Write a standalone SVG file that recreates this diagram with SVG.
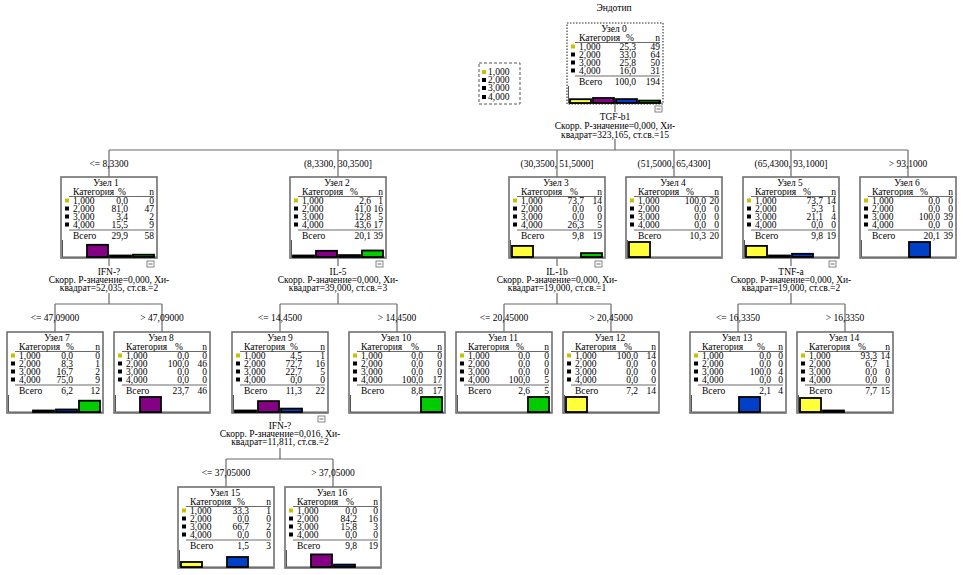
<svg xmlns="http://www.w3.org/2000/svg" width="963" height="575" viewBox="0 0 963 575">
<style>
.t{font-family:"Liberation Serif","Times New Roman",serif;font-size:9.5px;fill:#000}
.m{text-anchor:middle}.e{text-anchor:end}
.box{fill:#fff;stroke:#707070;stroke-width:1.6}
.box0{fill:#fff;stroke:#707070;stroke-width:1.6;stroke-dasharray:1.5,1.5}
.rule{stroke:#444;stroke-width:0.8}
.ax{fill:none;stroke:#555;stroke-width:1}
.sqY{fill:#c8c000}.sqK{fill:#000}
.bar{stroke:#000;stroke-width:1.8}
.b1{fill:#ffff3a}.b2{fill:#840084}.b3{fill:#0040c8}.b4{fill:#00cc00}
.cn{stroke:#6a6a6a;stroke-width:1.2;fill:none}
.mb{fill:#fff;stroke:#666;stroke-width:0.8}
.leg{fill:#fff;stroke:#555;stroke-width:1;stroke-dasharray:3,2}
</style>
<text class="t m" x="614" y="11">Эндотип</text>
<g id="legend">
<rect class="leg" x="479" y="63" width="41" height="41"/>
<rect class="sqY" x="482" y="70" width="4" height="4"/><text class="t" x="488" y="75">1,000</text>
<rect class="sqK" x="482" y="78" width="4" height="4"/><text class="t" x="488" y="83">2,000</text>
<rect class="sqK" x="482" y="86" width="4" height="4"/><text class="t" x="488" y="91">3,000</text>
<rect class="sqK" x="482" y="95" width="4" height="4"/><text class="t" x="488" y="100">4,000</text>
</g>
<g id="connectors">
<path class="cn" d="M615,104V112M615,139V150M109,150H908M109,150V177M338,150V177M557,150V177M674,150V177M791,150V177M908,150V177"/>
<path class="cn" d="M109,258V266M109,293V304M55,304H162M55,304V332M162,304V332"/>
<path class="cn" d="M338,258V266M338,293V304M280,304H397M280,304V332M397,304V332"/>
<path class="cn" d="M557,258V266M557,293V304M504,304H611M504,304V332M611,304V332"/>
<path class="cn" d="M791,258V266M791,293V304M738,304H845M738,304V332M845,304V332"/>
<path class="cn" d="M280,413V421M280,448V459M226,459H333M226,459V487M333,459V487"/>
</g>
<g id="labels">
<text class="t m" x="615" y="120">TGF-b1</text>
<text class="t m" x="615" y="129">Скорр. Р-значение=0,000, Хи-</text>
<text class="t m" x="615" y="138">квадрат=323,165, ст.св.=15</text>
<text class="t m" x="109" y="167">&lt;= 8,3300</text>
<text class="t m" x="338" y="167">(8,3300, 30,3500]</text>
<text class="t m" x="557" y="167">(30,3500, 51,5000]</text>
<text class="t m" x="674" y="167">(51,5000, 65,4300]</text>
<text class="t m" x="791" y="167">(65,4300, 93,1000]</text>
<text class="t m" x="908" y="167">&gt; 93,1000</text>
<text class="t m" x="109" y="275">IFN-?</text>
<text class="t m" x="109" y="283">Скорр. Р-значение=0,000, Хи-</text>
<text class="t m" x="109" y="291">квадрат=52,035, ст.св.=2</text>
<text class="t m" x="338" y="275">IL-5</text>
<text class="t m" x="338" y="283">Скорр. Р-значение=0,000, Хи-</text>
<text class="t m" x="338" y="291">квадрат=39,000, ст.св.=3</text>
<text class="t m" x="557" y="275">IL-1b</text>
<text class="t m" x="557" y="283">Скорр. Р-значение=0,000, Хи-</text>
<text class="t m" x="557" y="291">квадрат=19,000, ст.св.=1</text>
<text class="t m" x="791" y="275">TNF-a</text>
<text class="t m" x="791" y="283">Скорр. Р-значение=0,000, Хи-</text>
<text class="t m" x="791" y="291">квадрат=19,000, ст.св.=2</text>
<text class="t m" x="55" y="321">&lt;= 47,09000</text>
<text class="t m" x="162" y="321">&gt; 47,09000</text>
<text class="t m" x="280" y="321">&lt;= 14,4500</text>
<text class="t m" x="397" y="321">&gt; 14,4500</text>
<text class="t m" x="504" y="321">&lt;= 20,45000</text>
<text class="t m" x="611" y="321">&gt; 20,45000</text>
<text class="t m" x="738" y="321">&lt;= 16,3350</text>
<text class="t m" x="845" y="321">&gt; 16,3350</text>
<text class="t m" x="280" y="429">IFN-?</text>
<text class="t m" x="280" y="437">Скорр. Р-значение=0,016, Хи-</text>
<text class="t m" x="280" y="445">квадрат=11,811, ст.св.=2</text>
<text class="t m" x="226" y="476">&lt;= 37,05000</text>
<text class="t m" x="333" y="476">&gt; 37,05000</text>
</g>

<g id="node0" transform="translate(567,23)">
<rect class="box0" width="96" height="81"/>
<text class="t m" x="47" y="9">Узел 0</text>
<text class="t" x="12" y="17.5">Категория</text><text class="t m" x="63" y="17.5">%</text><text class="t e" x="93" y="17.5">n</text>
<line class="rule" x1="8" y1="19.5" x2="93" y2="19.5"/>
<rect class="sqY" x="4" y="21.5" width="4" height="4"/><rect class="sqK" x="4" y="29.5" width="4" height="4"/><rect class="sqK" x="4" y="37.5" width="4" height="4"/><rect class="sqK" x="4" y="45.5" width="4" height="4"/>
<text class="t" x="12" y="27">1,000</text><text class="t e" x="69" y="27">25,3</text><text class="t e" x="93" y="27">49</text>
<text class="t" x="12" y="35">2,000</text><text class="t e" x="69" y="35">33,0</text><text class="t e" x="93" y="35">64</text>
<text class="t" x="12" y="43">3,000</text><text class="t e" x="69" y="43">25,8</text><text class="t e" x="93" y="43">50</text>
<text class="t" x="12" y="51">4,000</text><text class="t e" x="69" y="51">16,0</text><text class="t e" x="93" y="51">31</text>
<line class="rule" x1="8" y1="53" x2="93" y2="53"/>
<text class="t" x="12" y="62">Всего</text><text class="t e" x="69" y="62">100,0</text><text class="t e" x="93" y="62">194</text>
<path class="ax" d="M1.5,63V80H95"/>
<rect class="bar b1" x="3" y="76.2" width="21" height="3.8"/><rect class="bar b2" x="26" y="75" width="21" height="5"/><rect class="bar b3" x="49" y="76.1" width="21" height="3.9"/><rect class="bar b4" x="72" y="77.6" width="21" height="2.4"/>
<rect class="mb" x="88" y="83" width="7" height="6"/><line class="rule" x1="89.5" y1="86" x2="93.5" y2="86"/>
</g>

<g id="node1" transform="translate(61,177)">
<rect class="box" width="96" height="81"/>
<text class="t m" x="45" y="9">Узел 1</text>
<text class="t" x="12" y="17.5">Категория</text><text class="t m" x="61" y="17.5">%</text><text class="t e" x="93" y="17.5">n</text>
<line class="rule" x1="8" y1="19.5" x2="93" y2="19.5"/>
<rect class="sqY" x="4" y="21.5" width="4" height="4"/><rect class="sqK" x="4" y="29.5" width="4" height="4"/><rect class="sqK" x="4" y="37.5" width="4" height="4"/><rect class="sqK" x="4" y="45.5" width="4" height="4"/>
<text class="t" x="12" y="27">1,000</text><text class="t e" x="67" y="27">0,0</text><text class="t e" x="93" y="27">0</text>
<text class="t" x="12" y="35">2,000</text><text class="t e" x="67" y="35">81,0</text><text class="t e" x="93" y="35">47</text>
<text class="t" x="12" y="43">3,000</text><text class="t e" x="67" y="43">3,4</text><text class="t e" x="93" y="43">2</text>
<text class="t" x="12" y="51">4,000</text><text class="t e" x="67" y="51">15,5</text><text class="t e" x="93" y="51">9</text>
<line class="rule" x1="8" y1="53" x2="93" y2="53"/>
<text class="t" x="12" y="62">Всего</text><text class="t e" x="67" y="62">29,9</text><text class="t e" x="93" y="62">58</text>
<path class="ax" d="M1.5,63V80H95"/>
<rect class="bar b2" x="26" y="67.8" width="21" height="12.2"/><rect class="bar b3" x="49" y="78.5" width="21" height="1.5"/><rect class="bar b4" x="72" y="77.7" width="21" height="2.3"/>
<rect class="mb" x="86" y="84" width="7" height="6"/><line class="rule" x1="87.5" y1="87" x2="91.5" y2="87"/>
</g>

<g id="node2" transform="translate(290,177)">
<rect class="box" width="96" height="81"/>
<text class="t m" x="47" y="9">Узел 2</text>
<text class="t" x="12" y="17.5">Категория</text><text class="t m" x="64" y="17.5">%</text><text class="t e" x="93" y="17.5">n</text>
<line class="rule" x1="8" y1="19.5" x2="93" y2="19.5"/>
<rect class="sqY" x="4" y="21.5" width="4" height="4"/><rect class="sqK" x="4" y="29.5" width="4" height="4"/><rect class="sqK" x="4" y="37.5" width="4" height="4"/><rect class="sqK" x="4" y="45.5" width="4" height="4"/>
<text class="t" x="12" y="27">1,000</text><text class="t e" x="81" y="27">2,6</text><text class="t e" x="93" y="27">1</text>
<text class="t" x="12" y="35">2,000</text><text class="t e" x="81" y="35">41,0</text><text class="t e" x="93" y="35">16</text>
<text class="t" x="12" y="43">3,000</text><text class="t e" x="81" y="43">12,8</text><text class="t e" x="93" y="43">5</text>
<text class="t" x="12" y="51">4,000</text><text class="t e" x="81" y="51">43,6</text><text class="t e" x="93" y="51">17</text>
<line class="rule" x1="8" y1="53" x2="93" y2="53"/>
<text class="t" x="12" y="62">Всего</text><text class="t e" x="81" y="62">20,1</text><text class="t e" x="93" y="62">39</text>
<path class="ax" d="M1.5,63V80H95"/>
<rect class="bar b1" x="3" y="78.5" width="21" height="1.5"/><rect class="bar b2" x="26" y="73.8" width="21" height="6.2"/><rect class="bar b3" x="49" y="78.1" width="21" height="1.9"/><rect class="bar b4" x="72" y="73.5" width="21" height="6.5"/>
<rect class="mb" x="86" y="84" width="7" height="6"/><line class="rule" x1="87.5" y1="87" x2="91.5" y2="87"/>
</g>

<g id="node3" transform="translate(509,177)">
<rect class="box" width="96" height="81"/>
<text class="t m" x="47" y="9">Узел 3</text>
<text class="t" x="12" y="17.5">Категория</text><text class="t m" x="65" y="17.5">%</text><text class="t e" x="93" y="17.5">n</text>
<line class="rule" x1="8" y1="19.5" x2="93" y2="19.5"/>
<rect class="sqY" x="4" y="21.5" width="4" height="4"/><rect class="sqK" x="4" y="29.5" width="4" height="4"/><rect class="sqK" x="4" y="37.5" width="4" height="4"/><rect class="sqK" x="4" y="45.5" width="4" height="4"/>
<text class="t" x="12" y="27">1,000</text><text class="t e" x="75" y="27">73,7</text><text class="t e" x="93" y="27">14</text>
<text class="t" x="12" y="35">2,000</text><text class="t e" x="75" y="35">0,0</text><text class="t e" x="93" y="35">0</text>
<text class="t" x="12" y="43">3,000</text><text class="t e" x="75" y="43">0,0</text><text class="t e" x="93" y="43">0</text>
<text class="t" x="12" y="51">4,000</text><text class="t e" x="75" y="51">26,3</text><text class="t e" x="93" y="51">5</text>
<line class="rule" x1="8" y1="53" x2="93" y2="53"/>
<text class="t" x="12" y="62">Всего</text><text class="t e" x="75" y="62">9,8</text><text class="t e" x="93" y="62">19</text>
<path class="ax" d="M1.5,63V80H95"/>
<rect class="bar b1" x="3" y="68.9" width="21" height="11.1"/><rect class="bar b4" x="72" y="76.1" width="21" height="3.9"/>
<rect class="mb" x="86" y="84" width="7" height="6"/><line class="rule" x1="87.5" y1="87" x2="91.5" y2="87"/>
</g>

<g id="node4" transform="translate(626,177)">
<rect class="box" width="96" height="81"/>
<text class="t m" x="47" y="9">Узел 4</text>
<text class="t" x="12" y="17.5">Категория</text><text class="t m" x="64" y="17.5">%</text><text class="t e" x="93" y="17.5">n</text>
<line class="rule" x1="8" y1="19.5" x2="93" y2="19.5"/>
<rect class="sqY" x="4" y="21.5" width="4" height="4"/><rect class="sqK" x="4" y="29.5" width="4" height="4"/><rect class="sqK" x="4" y="37.5" width="4" height="4"/><rect class="sqK" x="4" y="45.5" width="4" height="4"/>
<text class="t" x="12" y="27">1,000</text><text class="t e" x="80" y="27">100,0</text><text class="t e" x="93" y="27">20</text>
<text class="t" x="12" y="35">2,000</text><text class="t e" x="80" y="35">0,0</text><text class="t e" x="93" y="35">0</text>
<text class="t" x="12" y="43">3,000</text><text class="t e" x="80" y="43">0,0</text><text class="t e" x="93" y="43">0</text>
<text class="t" x="12" y="51">4,000</text><text class="t e" x="80" y="51">0,0</text><text class="t e" x="93" y="51">0</text>
<line class="rule" x1="8" y1="53" x2="93" y2="53"/>
<text class="t" x="12" y="62">Всего</text><text class="t e" x="80" y="62">10,3</text><text class="t e" x="93" y="62">20</text>
<path class="ax" d="M1.5,63V80H95"/>
<rect class="bar b1" x="3" y="65" width="21" height="15"/>
</g>

<g id="node5" transform="translate(743,177)">
<rect class="box" width="96" height="81"/>
<text class="t m" x="47" y="9">Узел 5</text>
<text class="t" x="12" y="17.5">Категория</text><text class="t m" x="64" y="17.5">%</text><text class="t e" x="93" y="17.5">n</text>
<line class="rule" x1="8" y1="19.5" x2="93" y2="19.5"/>
<rect class="sqY" x="4" y="21.5" width="4" height="4"/><rect class="sqK" x="4" y="29.5" width="4" height="4"/><rect class="sqK" x="4" y="37.5" width="4" height="4"/><rect class="sqK" x="4" y="45.5" width="4" height="4"/>
<text class="t" x="12" y="27">1,000</text><text class="t e" x="80" y="27">73,7</text><text class="t e" x="93" y="27">14</text>
<text class="t" x="12" y="35">2,000</text><text class="t e" x="80" y="35">5,3</text><text class="t e" x="93" y="35">1</text>
<text class="t" x="12" y="43">3,000</text><text class="t e" x="80" y="43">21,1</text><text class="t e" x="93" y="43">4</text>
<text class="t" x="12" y="51">4,000</text><text class="t e" x="80" y="51">0,0</text><text class="t e" x="93" y="51">0</text>
<line class="rule" x1="8" y1="53" x2="93" y2="53"/>
<text class="t" x="12" y="62">Всего</text><text class="t e" x="80" y="62">9,8</text><text class="t e" x="93" y="62">19</text>
<path class="ax" d="M1.5,63V80H95"/>
<rect class="bar b1" x="3" y="68.9" width="21" height="11.1"/><rect class="bar b2" x="26" y="78.5" width="21" height="1.5"/><rect class="bar b3" x="49" y="76.8" width="21" height="3.2"/>
<rect class="mb" x="86" y="84" width="7" height="6"/><line class="rule" x1="87.5" y1="87" x2="91.5" y2="87"/>
</g>

<g id="node6" transform="translate(860,177)">
<rect class="box" width="96" height="81"/>
<text class="t m" x="47" y="9">Узел 6</text>
<text class="t" x="12" y="17.5">Категория</text><text class="t m" x="64" y="17.5">%</text><text class="t e" x="93" y="17.5">n</text>
<line class="rule" x1="8" y1="19.5" x2="93" y2="19.5"/>
<rect class="sqY" x="4" y="21.5" width="4" height="4"/><rect class="sqK" x="4" y="29.5" width="4" height="4"/><rect class="sqK" x="4" y="37.5" width="4" height="4"/><rect class="sqK" x="4" y="45.5" width="4" height="4"/>
<text class="t" x="12" y="27">1,000</text><text class="t e" x="80" y="27">0,0</text><text class="t e" x="93" y="27">0</text>
<text class="t" x="12" y="35">2,000</text><text class="t e" x="80" y="35">0,0</text><text class="t e" x="93" y="35">0</text>
<text class="t" x="12" y="43">3,000</text><text class="t e" x="80" y="43">100,0</text><text class="t e" x="93" y="43">39</text>
<text class="t" x="12" y="51">4,000</text><text class="t e" x="80" y="51">0,0</text><text class="t e" x="93" y="51">0</text>
<line class="rule" x1="8" y1="53" x2="93" y2="53"/>
<text class="t" x="12" y="62">Всего</text><text class="t e" x="80" y="62">20,1</text><text class="t e" x="93" y="62">39</text>
<path class="ax" d="M1.5,63V80H95"/>
<rect class="bar b3" x="49" y="65" width="21" height="15"/>
</g>

<g id="node7" transform="translate(7,332)">
<rect class="box" width="96" height="81"/>
<text class="t m" x="50" y="9">Узел 7</text>
<text class="t" x="12" y="17.5">Категория</text><text class="t m" x="63" y="17.5">%</text><text class="t e" x="93" y="17.5">n</text>
<line class="rule" x1="8" y1="19.5" x2="93" y2="19.5"/>
<rect class="sqY" x="4" y="21.5" width="4" height="4"/><rect class="sqK" x="4" y="29.5" width="4" height="4"/><rect class="sqK" x="4" y="37.5" width="4" height="4"/><rect class="sqK" x="4" y="45.5" width="4" height="4"/>
<text class="t" x="12" y="27">1,000</text><text class="t e" x="66" y="27">0,0</text><text class="t e" x="93" y="27">0</text>
<text class="t" x="12" y="35">2,000</text><text class="t e" x="66" y="35">8,3</text><text class="t e" x="93" y="35">1</text>
<text class="t" x="12" y="43">3,000</text><text class="t e" x="66" y="43">16,7</text><text class="t e" x="93" y="43">2</text>
<text class="t" x="12" y="51">4,000</text><text class="t e" x="66" y="51">75,0</text><text class="t e" x="93" y="51">9</text>
<line class="rule" x1="8" y1="53" x2="93" y2="53"/>
<text class="t" x="12" y="62">Всего</text><text class="t e" x="66" y="62">6,2</text><text class="t e" x="93" y="62">12</text>
<path class="ax" d="M1.5,63V80H95"/>
<rect class="bar b2" x="26" y="78.5" width="21" height="1.5"/><rect class="bar b3" x="49" y="77.5" width="21" height="2.5"/><rect class="bar b4" x="72" y="68.7" width="21" height="11.3"/>
</g>

<g id="node8" transform="translate(114,332)">
<rect class="box" width="96" height="81"/>
<text class="t m" x="47" y="9">Узел 8</text>
<text class="t" x="12" y="17.5">Категория</text><text class="t m" x="65" y="17.5">%</text><text class="t e" x="93" y="17.5">n</text>
<line class="rule" x1="8" y1="19.5" x2="93" y2="19.5"/>
<rect class="sqY" x="4" y="21.5" width="4" height="4"/><rect class="sqK" x="4" y="29.5" width="4" height="4"/><rect class="sqK" x="4" y="37.5" width="4" height="4"/><rect class="sqK" x="4" y="45.5" width="4" height="4"/>
<text class="t" x="12" y="27">1,000</text><text class="t e" x="75" y="27">0,0</text><text class="t e" x="93" y="27">0</text>
<text class="t" x="12" y="35">2,000</text><text class="t e" x="75" y="35">100,0</text><text class="t e" x="93" y="35">46</text>
<text class="t" x="12" y="43">3,000</text><text class="t e" x="75" y="43">0,0</text><text class="t e" x="93" y="43">0</text>
<text class="t" x="12" y="51">4,000</text><text class="t e" x="75" y="51">0,0</text><text class="t e" x="93" y="51">0</text>
<line class="rule" x1="8" y1="53" x2="93" y2="53"/>
<text class="t" x="12" y="62">Всего</text><text class="t e" x="75" y="62">23,7</text><text class="t e" x="93" y="62">46</text>
<path class="ax" d="M1.5,63V80H95"/>
<rect class="bar b2" x="26" y="65" width="21" height="15"/>
</g>

<g id="node9" transform="translate(232,332)">
<rect class="box" width="96" height="81"/>
<text class="t m" x="48" y="9">Узел 9</text>
<text class="t" x="12" y="17.5">Категория</text><text class="t m" x="62" y="17.5">%</text><text class="t e" x="93" y="17.5">n</text>
<line class="rule" x1="8" y1="19.5" x2="93" y2="19.5"/>
<rect class="sqY" x="4" y="21.5" width="4" height="4"/><rect class="sqK" x="4" y="29.5" width="4" height="4"/><rect class="sqK" x="4" y="37.5" width="4" height="4"/><rect class="sqK" x="4" y="45.5" width="4" height="4"/>
<text class="t" x="12" y="27">1,000</text><text class="t e" x="70" y="27">4,5</text><text class="t e" x="93" y="27">1</text>
<text class="t" x="12" y="35">2,000</text><text class="t e" x="70" y="35">72,7</text><text class="t e" x="93" y="35">16</text>
<text class="t" x="12" y="43">3,000</text><text class="t e" x="70" y="43">22,7</text><text class="t e" x="93" y="43">5</text>
<text class="t" x="12" y="51">4,000</text><text class="t e" x="70" y="51">0,0</text><text class="t e" x="93" y="51">0</text>
<line class="rule" x1="8" y1="53" x2="93" y2="53"/>
<text class="t" x="12" y="62">Всего</text><text class="t e" x="70" y="62">11,3</text><text class="t e" x="93" y="62">22</text>
<path class="ax" d="M1.5,63V80H95"/>
<rect class="bar b1" x="3" y="78.5" width="21" height="1.5"/><rect class="bar b2" x="26" y="69.1" width="21" height="10.9"/><rect class="bar b3" x="49" y="76.6" width="21" height="3.4"/>
<rect class="mb" x="86" y="84" width="7" height="6"/><line class="rule" x1="87.5" y1="87" x2="91.5" y2="87"/>
</g>

<g id="node10" transform="translate(349,332)">
<rect class="box" width="96" height="81"/>
<text class="t m" x="47" y="9">Узел 10</text>
<text class="t" x="12" y="17.5">Категория</text><text class="t m" x="66" y="17.5">%</text><text class="t e" x="93" y="17.5">n</text>
<line class="rule" x1="8" y1="19.5" x2="93" y2="19.5"/>
<rect class="sqY" x="4" y="21.5" width="4" height="4"/><rect class="sqK" x="4" y="29.5" width="4" height="4"/><rect class="sqK" x="4" y="37.5" width="4" height="4"/><rect class="sqK" x="4" y="45.5" width="4" height="4"/>
<text class="t" x="12" y="27">1,000</text><text class="t e" x="74" y="27">0,0</text><text class="t e" x="93" y="27">0</text>
<text class="t" x="12" y="35">2,000</text><text class="t e" x="74" y="35">0,0</text><text class="t e" x="93" y="35">0</text>
<text class="t" x="12" y="43">3,000</text><text class="t e" x="74" y="43">0,0</text><text class="t e" x="93" y="43">0</text>
<text class="t" x="12" y="51">4,000</text><text class="t e" x="74" y="51">100,0</text><text class="t e" x="93" y="51">17</text>
<line class="rule" x1="8" y1="53" x2="93" y2="53"/>
<text class="t" x="12" y="62">Всего</text><text class="t e" x="74" y="62">8,8</text><text class="t e" x="93" y="62">17</text>
<path class="ax" d="M1.5,63V80H95"/>
<rect class="bar b4" x="72" y="65" width="21" height="15"/>
</g>

<g id="node11" transform="translate(456,332)">
<rect class="box" width="96" height="81"/>
<text class="t m" x="47" y="9">Узел 11</text>
<text class="t" x="12" y="17.5">Категория</text><text class="t m" x="64" y="17.5">%</text><text class="t e" x="93" y="17.5">n</text>
<line class="rule" x1="8" y1="19.5" x2="93" y2="19.5"/>
<rect class="sqY" x="4" y="21.5" width="4" height="4"/><rect class="sqK" x="4" y="29.5" width="4" height="4"/><rect class="sqK" x="4" y="37.5" width="4" height="4"/><rect class="sqK" x="4" y="45.5" width="4" height="4"/>
<text class="t" x="12" y="27">1,000</text><text class="t e" x="74" y="27">0,0</text><text class="t e" x="93" y="27">0</text>
<text class="t" x="12" y="35">2,000</text><text class="t e" x="74" y="35">0,0</text><text class="t e" x="93" y="35">0</text>
<text class="t" x="12" y="43">3,000</text><text class="t e" x="74" y="43">0,0</text><text class="t e" x="93" y="43">0</text>
<text class="t" x="12" y="51">4,000</text><text class="t e" x="74" y="51">100,0</text><text class="t e" x="93" y="51">5</text>
<line class="rule" x1="8" y1="53" x2="93" y2="53"/>
<text class="t" x="12" y="62">Всего</text><text class="t e" x="74" y="62">2,6</text><text class="t e" x="93" y="62">5</text>
<path class="ax" d="M1.5,63V80H95"/>
<rect class="bar b4" x="72" y="65" width="21" height="15"/>
</g>

<g id="node12" transform="translate(563,332)">
<rect class="box" width="96" height="81"/>
<text class="t m" x="47" y="9">Узел 12</text>
<text class="t" x="12" y="17.5">Категория</text><text class="t m" x="65" y="17.5">%</text><text class="t e" x="93" y="17.5">n</text>
<line class="rule" x1="8" y1="19.5" x2="93" y2="19.5"/>
<rect class="sqY" x="4" y="21.5" width="4" height="4"/><rect class="sqK" x="4" y="29.5" width="4" height="4"/><rect class="sqK" x="4" y="37.5" width="4" height="4"/><rect class="sqK" x="4" y="45.5" width="4" height="4"/>
<text class="t" x="12" y="27">1,000</text><text class="t e" x="75" y="27">100,0</text><text class="t e" x="93" y="27">14</text>
<text class="t" x="12" y="35">2,000</text><text class="t e" x="75" y="35">0,0</text><text class="t e" x="93" y="35">0</text>
<text class="t" x="12" y="43">3,000</text><text class="t e" x="75" y="43">0,0</text><text class="t e" x="93" y="43">0</text>
<text class="t" x="12" y="51">4,000</text><text class="t e" x="75" y="51">0,0</text><text class="t e" x="93" y="51">0</text>
<line class="rule" x1="8" y1="53" x2="93" y2="53"/>
<text class="t" x="12" y="62">Всего</text><text class="t e" x="75" y="62">7,2</text><text class="t e" x="93" y="62">14</text>
<path class="ax" d="M1.5,63V80H95"/>
<rect class="bar b1" x="3" y="65" width="21" height="15"/>
</g>

<g id="node13" transform="translate(690,332)">
<rect class="box" width="96" height="81"/>
<text class="t m" x="47" y="9">Узел 13</text>
<text class="t" x="12" y="17.5">Категория</text><text class="t m" x="71" y="17.5">%</text><text class="t e" x="93" y="17.5">n</text>
<line class="rule" x1="8" y1="19.5" x2="93" y2="19.5"/>
<rect class="sqY" x="4" y="21.5" width="4" height="4"/><rect class="sqK" x="4" y="29.5" width="4" height="4"/><rect class="sqK" x="4" y="37.5" width="4" height="4"/><rect class="sqK" x="4" y="45.5" width="4" height="4"/>
<text class="t" x="12" y="27">1,000</text><text class="t e" x="81" y="27">0,0</text><text class="t e" x="93" y="27">0</text>
<text class="t" x="12" y="35">2,000</text><text class="t e" x="81" y="35">0,0</text><text class="t e" x="93" y="35">0</text>
<text class="t" x="12" y="43">3,000</text><text class="t e" x="81" y="43">100,0</text><text class="t e" x="93" y="43">4</text>
<text class="t" x="12" y="51">4,000</text><text class="t e" x="81" y="51">0,0</text><text class="t e" x="93" y="51">0</text>
<line class="rule" x1="8" y1="53" x2="93" y2="53"/>
<text class="t" x="12" y="62">Всего</text><text class="t e" x="81" y="62">2,1</text><text class="t e" x="93" y="62">4</text>
<path class="ax" d="M1.5,63V80H95"/>
<rect class="bar b3" x="49" y="65" width="21" height="15"/>
</g>

<g id="node14" transform="translate(797,332)">
<rect class="box" width="96" height="81"/>
<text class="t m" x="47" y="9">Узел 14</text>
<text class="t" x="12" y="17.5">Категория</text><text class="t m" x="65" y="17.5">%</text><text class="t e" x="93" y="17.5">n</text>
<line class="rule" x1="8" y1="19.5" x2="93" y2="19.5"/>
<rect class="sqY" x="4" y="21.5" width="4" height="4"/><rect class="sqK" x="4" y="29.5" width="4" height="4"/><rect class="sqK" x="4" y="37.5" width="4" height="4"/><rect class="sqK" x="4" y="45.5" width="4" height="4"/>
<text class="t" x="12" y="27">1,000</text><text class="t e" x="80" y="27">93,3</text><text class="t e" x="93" y="27">14</text>
<text class="t" x="12" y="35">2,000</text><text class="t e" x="80" y="35">6,7</text><text class="t e" x="93" y="35">1</text>
<text class="t" x="12" y="43">3,000</text><text class="t e" x="80" y="43">0,0</text><text class="t e" x="93" y="43">0</text>
<text class="t" x="12" y="51">4,000</text><text class="t e" x="80" y="51">0,0</text><text class="t e" x="93" y="51">0</text>
<line class="rule" x1="8" y1="53" x2="93" y2="53"/>
<text class="t" x="12" y="62">Всего</text><text class="t e" x="80" y="62">7,7</text><text class="t e" x="93" y="62">15</text>
<path class="ax" d="M1.5,63V80H95"/>
<rect class="bar b1" x="3" y="66" width="21" height="14"/><rect class="bar b2" x="26" y="78.5" width="21" height="1.5"/>
</g>

<g id="node15" transform="translate(178,487)">
<rect class="box" width="96" height="81"/>
<text class="t m" x="47" y="9">Узел 15</text>
<text class="t" x="12" y="17.5">Категория</text><text class="t m" x="63" y="17.5">%</text><text class="t e" x="93" y="17.5">n</text>
<line class="rule" x1="8" y1="19.5" x2="93" y2="19.5"/>
<rect class="sqY" x="4" y="21.5" width="4" height="4"/><rect class="sqK" x="4" y="29.5" width="4" height="4"/><rect class="sqK" x="4" y="37.5" width="4" height="4"/><rect class="sqK" x="4" y="45.5" width="4" height="4"/>
<text class="t" x="12" y="27">1,000</text><text class="t e" x="71" y="27">33,3</text><text class="t e" x="93" y="27">1</text>
<text class="t" x="12" y="35">2,000</text><text class="t e" x="71" y="35">0,0</text><text class="t e" x="93" y="35">0</text>
<text class="t" x="12" y="43">3,000</text><text class="t e" x="71" y="43">66,7</text><text class="t e" x="93" y="43">2</text>
<text class="t" x="12" y="51">4,000</text><text class="t e" x="71" y="51">0,0</text><text class="t e" x="93" y="51">0</text>
<line class="rule" x1="8" y1="53" x2="93" y2="53"/>
<text class="t" x="12" y="62">Всего</text><text class="t e" x="71" y="62">1,5</text><text class="t e" x="93" y="62">3</text>
<path class="ax" d="M1.5,63V80H95"/>
<rect class="bar b1" x="3" y="75" width="21" height="5"/><rect class="bar b3" x="49" y="70" width="21" height="10"/>
</g>

<g id="node16" transform="translate(285,487)">
<rect class="box" width="96" height="81"/>
<text class="t m" x="47" y="9">Узел 16</text>
<text class="t" x="12" y="17.5">Категория</text><text class="t m" x="65" y="17.5">%</text><text class="t e" x="93" y="17.5">n</text>
<line class="rule" x1="8" y1="19.5" x2="93" y2="19.5"/>
<rect class="sqY" x="4" y="21.5" width="4" height="4"/><rect class="sqK" x="4" y="29.5" width="4" height="4"/><rect class="sqK" x="4" y="37.5" width="4" height="4"/><rect class="sqK" x="4" y="45.5" width="4" height="4"/>
<text class="t" x="12" y="27">1,000</text><text class="t e" x="72" y="27">0,0</text><text class="t e" x="93" y="27">0</text>
<text class="t" x="12" y="35">2,000</text><text class="t e" x="72" y="35">84,2</text><text class="t e" x="93" y="35">16</text>
<text class="t" x="12" y="43">3,000</text><text class="t e" x="72" y="43">15,8</text><text class="t e" x="93" y="43">3</text>
<text class="t" x="12" y="51">4,000</text><text class="t e" x="72" y="51">0,0</text><text class="t e" x="93" y="51">0</text>
<line class="rule" x1="8" y1="53" x2="93" y2="53"/>
<text class="t" x="12" y="62">Всего</text><text class="t e" x="72" y="62">9,8</text><text class="t e" x="93" y="62">19</text>
<path class="ax" d="M1.5,63V80H95"/>
<rect class="bar b2" x="26" y="67.4" width="21" height="12.6"/><rect class="bar b3" x="49" y="77.6" width="21" height="2.4"/>
</g>
</svg>
